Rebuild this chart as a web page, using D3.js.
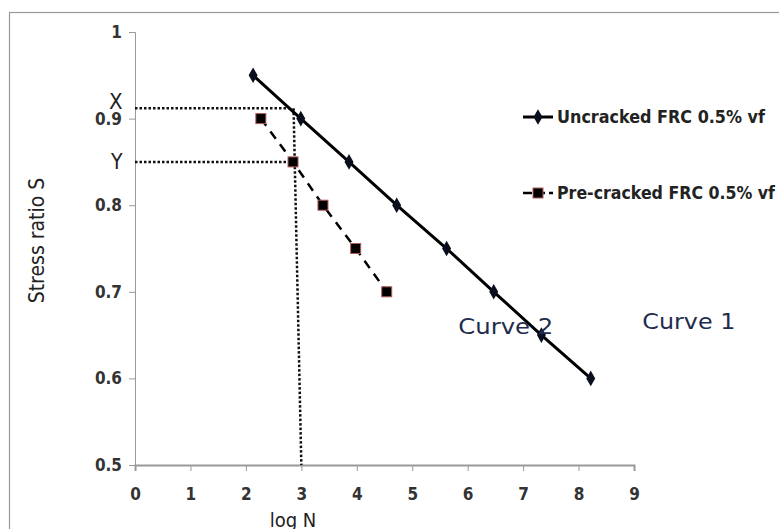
<!DOCTYPE html>
<html>
<head>
<meta charset="utf-8">
<script src="https://cdn.jsdelivr.net/npm/d3@7"></script>
<style>
  body { margin: 0; background: #fff; }
  text { font-family: "Liberation Sans Narrow", "DejaVu Sans Condensed", Arial, sans-serif; }
  .tick text { font-size: 17px; font-weight: bold; fill: #333; }
  .tick line, .domain { stroke: #999; }
</style>
</head>
<body>
<svg id="chart" width="779" height="529"></svg>
<script>
// data
var xTicks = [0, 1, 2, 3, 4, 5, 6, 7, 8, 9];
var yTicks = [0.5, 0.6, 0.7, 0.8, 0.9, 1];
var uncrackedLogN = [2.13, 2.99, 3.86, 4.72, 5.62, 6.47, 7.33, 8.22];
var uncrackedS = [0.95, 0.90, 0.85, 0.80, 0.75, 0.70, 0.65, 0.60];
var crackedLogN = [2.27, 2.85, 3.39, 3.98, 4.54];
var crackedS = [0.90, 0.85, 0.80, 0.75, 0.70];
// guide lines (X and Y levels)
var guideX = [[0, 0.912], [2.8, 0.912]];
var guideY = [[0, 0.85], [2.86, 0.85]];
var guideV = [[2.86, 0.912], [3.0, 0.5]];

var svg = d3.select("#chart");

// outer frame
svg.append("rect")
  .attr("x", 9.5).attr("y", 12.5)
  .attr("width", 800).attr("height", 600)
  .attr("fill", "none").attr("stroke", "#999").attr("stroke-width", 1.2);

var margin = { left: 135, top: 32 };
var w = 499, h = 433;

var g = svg.append("g")
  .attr("transform", "translate(" + margin.left + "," + margin.top + ")");

var x = d3.scaleLinear().domain([0, 9]).range([0, w]);
var y = d3.scaleLinear().domain([0.5, 1]).range([h, 0]);

var xAxis = d3.axisBottom(x).tickValues(xTicks).tickSize(6).tickPadding(17).tickFormat(d3.format("d"));
var yAxis = d3.axisLeft(y).tickValues(yTicks).tickSize(6).tickPadding(7)
  .tickFormat(function(d) { return d === 1 ? "1" : d3.format(".1f")(d); });

g.append("g").attr("class", "y axis").call(yAxis);
g.append("g").attr("class", "x axis")
  .attr("transform", "translate(0," + h + ")")
  .call(xAxis);
g.selectAll(".x.axis .domain").attr("stroke-width", 2);

// axis titles
g.append("text")
  .attr("transform", "translate(" + (-98) + "," + (h / 2 - 8) + ") rotate(-90)")
  .attr("text-anchor", "middle")
  .attr("dy", "0.35em")
  .style("font-size", "21px")
  .attr("fill", "#222")
  .text("Stress ratio S");

g.append("text")
  .attr("x", x(2.85)).attr("y", h + 62)
  .attr("text-anchor", "middle")
  .style("font-size", "20px")
  .attr("fill", "#222")
  .text("log N");

// dotted guide lines
var line = d3.line().x(function(d) { return x(d[0]); }).y(function(d) { return y(d[1]); });
[guideX, guideY, guideV].forEach(function(gd) {
  g.append("path")
    .attr("d", line(gd))
    .attr("fill", "none")
    .attr("stroke", "#111")
    .attr("stroke-width", 2.5)
    .attr("stroke-dasharray", "2.5,2");
});

g.append("text").attr("x", -26).attr("y", y(0.912) - 7)
  .attr("text-anchor", "start").attr("dy", "0.35em")
  .style("font-size", "22px").attr("fill", "#222").text("X");
g.append("text").attr("x", -24).attr("y", y(0.85))
  .attr("text-anchor", "start").attr("dy", "0.35em")
  .style("font-size", "21px").attr("fill", "#222").text("Y");

// series
var unc = d3.zip(uncrackedLogN, uncrackedS);
var cra = d3.zip(crackedLogN, crackedS);

g.append("path").attr("d", line(unc))
  .attr("fill", "none").attr("stroke", "#000").attr("stroke-width", 3);
g.append("path").attr("d", line(cra))
  .attr("fill", "none").attr("stroke", "#000").attr("stroke-width", 2.5)
  .attr("stroke-dasharray", "9,7");

var diamond = d3.symbol().type(d3.symbolDiamond).size(70);
g.selectAll(".dia").data(unc).enter().append("path")
  .attr("class", "dia")
  .attr("transform", function(d) { return "translate(" + x(d[0]) + "," + y(d[1]) + ")"; })
  .attr("d", diamond)
  .attr("fill", "#0a0f1e");

g.selectAll(".sq").data(cra).enter().append("rect")
  .attr("class", "sq")
  .attr("x", function(d) { return x(d[0]) - 5; })
  .attr("y", function(d) { return y(d[1]) - 5; })
  .attr("width", 10).attr("height", 10)
  .attr("fill", "#000").attr("stroke", "#b05a5a").attr("stroke-width", 1);

// curve labels
g.append("text").attr("x", x(5.83)).attr("y", y(0.66))
  .attr("dy", "0.35em").style("font-size", "22px").attr("fill", "#1f2d4d")
  .attr("textLength", 95).attr("lengthAdjust", "spacingAndGlyphs").text("Curve 2");
g.append("text").attr("x", x(9.15)).attr("y", y(0.666))
  .attr("dy", "0.35em").style("font-size", "22px").attr("fill", "#1f2d4d")
  .attr("textLength", 93).attr("lengthAdjust", "spacingAndGlyphs").text("Curve 1");

// legend
var legend = svg.append("g").attr("transform", "translate(523,117)");
legend.append("line").attr("x1", 0).attr("x2", 30).attr("y1", 0).attr("y2", 0)
  .attr("stroke", "#000").attr("stroke-width", 3);
legend.append("path").attr("transform", "translate(15,0)").attr("d", diamond).attr("fill", "#0a0f1e");
legend.append("text").attr("x", 34).attr("dy", "0.35em")
  .style("font-size", "17px").style("font-weight", "bold").attr("fill", "#222")
  .attr("textLength", 208).attr("lengthAdjust", "spacingAndGlyphs")
  .text("Uncracked FRC 0.5% vf");

var legend2 = svg.append("g").attr("transform", "translate(523,193)");
legend2.append("line").attr("x1", 0).attr("x2", 30).attr("y1", 0).attr("y2", 0)
  .attr("stroke", "#000").attr("stroke-width", 2.5).attr("stroke-dasharray", "9,4");
legend2.append("rect").attr("x", 10).attr("y", -5).attr("width", 10).attr("height", 10)
  .attr("fill", "#000").attr("stroke", "#b05a5a");
legend2.append("text").attr("x", 34).attr("dy", "0.35em")
  .style("font-size", "17px").style("font-weight", "bold").attr("fill", "#222")
  .attr("textLength", 218).attr("lengthAdjust", "spacingAndGlyphs")
  .text("Pre-cracked FRC 0.5% vf");
</script>
</body>
</html>
